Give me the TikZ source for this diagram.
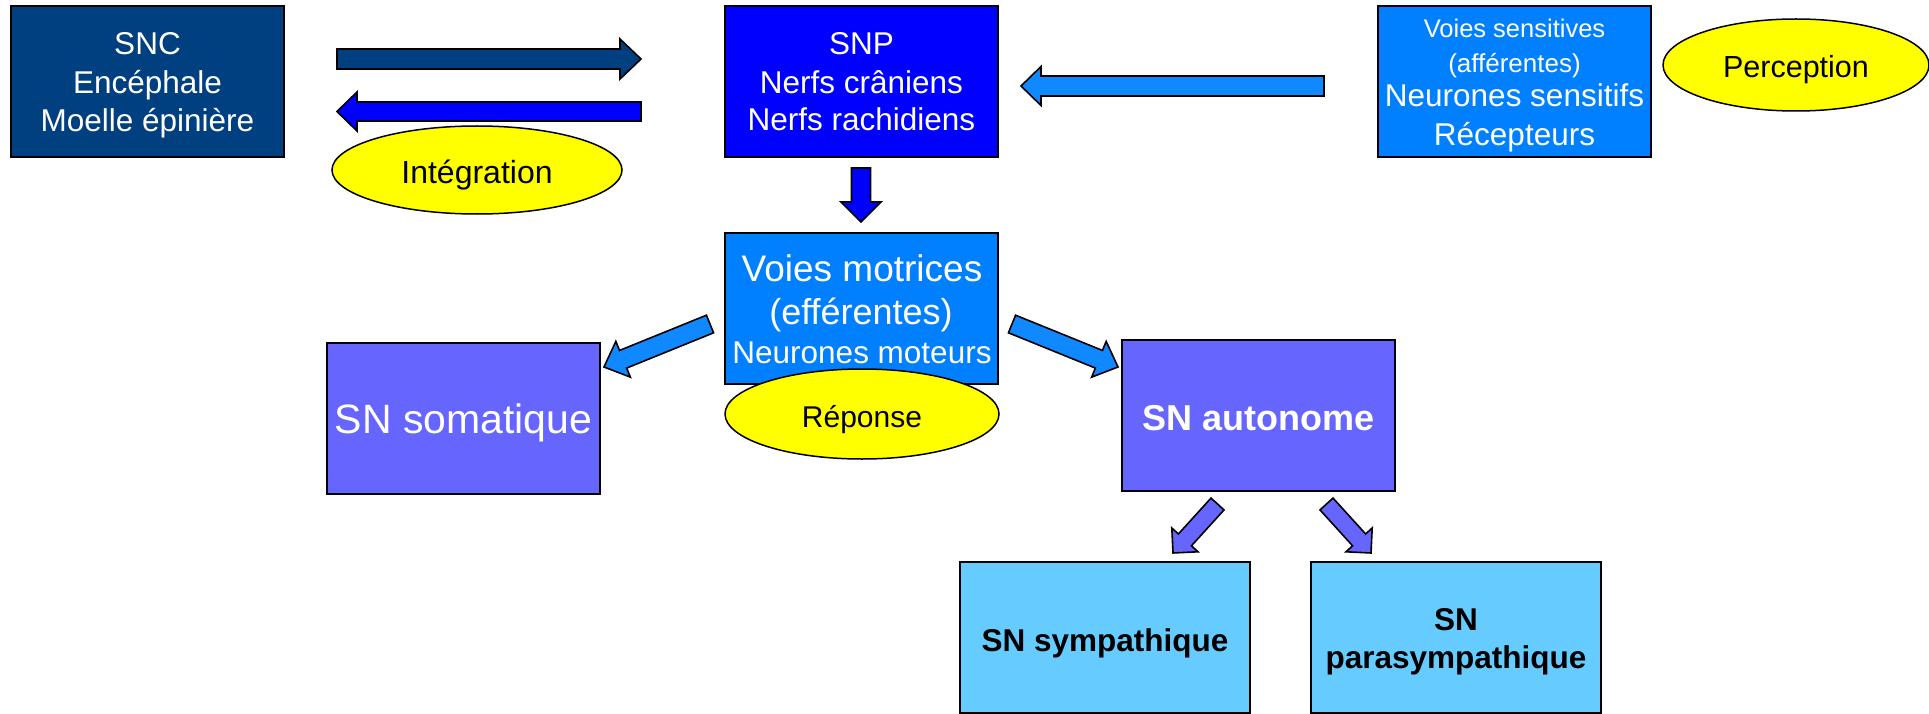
\documentclass[tikz,border=0pt]{standalone}
\usepackage{fontspec}
\setmainfont{Liberation Sans}
\usetikzlibrary{shapes.geometric}
\definecolor{sncblue}{HTML}{004080}
\definecolor{snpblue}{HTML}{0000FF}
\definecolor{voieblue}{HTML}{0080FF}
\definecolor{arrblue}{HTML}{1088FF}
\definecolor{snviolet}{HTML}{6666FF}
\definecolor{snlight}{HTML}{66CCFF}
\definecolor{ellyellow}{HTML}{FFFF00}
\tikzset{
  box/.style={draw=black, line width=2pt, minimum width=273pt, minimum height=151pt, inner sep=0pt},
  ellip/.style={ellipse, draw=black, line width=1.5pt, fill=ellyellow, inner sep=0pt},
  barr/.style={draw=black, line width=1.6pt, line join=miter},
  wline/.style={anchor=base, inner sep=0pt, text=white},
  kline/.style={anchor=base, inner sep=0pt, text=black},
}
\newcommand\fsz[1]{\fontsize{#1}{#1}\selectfont}
\newcommand\blockarrow[6]{%
  \path (#2); \pgfgetlastxy{\bax}{\bay}%
  \path (#3); \pgfgetlastxy{\bbx}{\bby}%
  \pgfmathsetmacro\bang{atan2((\bby)-(\bay),(\bbx)-(\bax))}%
  \pgfmathsetmacro\blen{veclen((\bbx)-(\bax),(\bby)-(\bay))}%
  \pgfmathsetmacro\bneck{\blen-#6}%
  \draw[barr,#1,shift={(\bax,\bay)},rotate=\bang]
    (0pt,-#4pt) -- (\bneck pt,-#4pt) -- (\bneck pt,-#5pt) -- (\blen pt,0pt)
    -- (\bneck pt,#5pt) -- (\bneck pt,#4pt) -- (0pt,#4pt) -- cycle;}
\begin{document}
\begin{tikzpicture}[x=1pt,y=-1pt]
\useasboundingbox (0,0) rectangle (1929,714);

% boxes
\node[box, fill=sncblue] (snc) at (147.5,81.5) {};
\node[box, fill=snpblue] (snp) at (861.5,81.5) {};
\node[box, fill=voieblue] (sens) at (1514.5,81.5) {};
\node[box, fill=voieblue] (motr) at (861,308.5) {};
\node[box, fill=snviolet] (soma) at (463.5,418.5) {};
\node[box, fill=snviolet] (auto) at (1258.5,415.5) {};
\node[box, fill=snlight, minimum width=290pt] (symp) at (1105,637.5) {};
\node[box, fill=snlight, minimum width=290pt] (para) at (1456,637.5) {};

% ellipses
\node[ellip, minimum width=290pt, minimum height=88pt] (integ) at (477,170) {};
\node[ellip, minimum width=266pt, minimum height=92pt] (perc) at (1796,65) {};
\node[ellip, minimum width=274pt, minimum height=90pt] (repo) at (862,414) {};

% texts
\node[wline, font=\fsz{31.5}] (snc1) at (147.5,55) {SNC};
\node[wline, font=\fsz{31.5}] (snc2) at (147.5,94) {Encéphale};
\node[wline, font=\fsz{31.5}] (snc3) at (147.5,132) {Moelle épinière};

\node[wline, font=\fsz{31.5}] (snp1) at (861.5,55) {SNP};
\node[wline, font=\fsz{31.5}] (snp2) at (861.5,93.5) {Nerfs crâniens};
\node[wline, font=\fsz{31.5}] (snp3) at (861.5,131) {Nerfs rachidiens};

\node[wline, font=\fsz{25.5}] (sens1) at (1514.5,38) {Voies sensitives};
\node[wline, font=\fsz{26}] (sens2) at (1514.5,73) {(afférentes)};
\node[wline, font=\fsz{31.5}] (sens3) at (1514.5,107) {Neurones sensitifs};
\node[wline, font=\fsz{31.5}] (sens4) at (1514.5,146) {Récepteurs};

\node[wline, font=\fsz{37}] (motr1) at (862,281) {Voies motrices};
\node[wline, font=\fsz{36}] (motr2) at (861,324) {(efférentes)};
\node[wline, font=\fsz{31.5}] (motr3) at (862,363) {Neurones moteurs};

\node[wline, font=\fsz{41}] (soma1) at (463.5,433) {SN somatique};
\node[wline, font=\fsz{36}\bfseries] (auto1) at (1258.5,430) {SN autonome};
\node[kline, font=\fsz{31.5}\bfseries] (symp1) at (1105,651) {SN sympathique};
\node[kline, font=\fsz{31.5}\bfseries] (para1) at (1456,630) {SN};
\node[kline, font=\fsz{31.5}\bfseries] (para2) at (1456,668) {parasympathique};

\node[kline, font=\fsz{32}] (integ1) at (477,184) {Intégration};
\node[kline, font=\fsz{30.5}] (perc1) at (1796,78) {Perception};
\node[kline, font=\fsz{30}] (repo1) at (862,427) {Réponse};

% arrow end points
\coordinate (a1s) at (337,59);     \coordinate (a1e) at (641,59);
\coordinate (a2s) at (641,111.5);  \coordinate (a2e) at (337,111.5);
\coordinate (a3s) at (1324,86);    \coordinate (a3e) at (1021,86);
\coordinate (a4s) at (861,168);    \coordinate (a4e) at (861,222);
\coordinate (a5s) at (710,324);    \coordinate (a5e) at (604,367);
\coordinate (a6s) at (1012,324);   \coordinate (a6e) at (1118,367);
\coordinate (a7s) at (1217.5,504); \coordinate (a7e) at (1173,553);
\coordinate (a8s) at (1326.5,504); \coordinate (a8e) at (1371,553);

\blockarrow{fill=sncblue}{a1s}{a1e}{10}{20}{21}
\blockarrow{fill=snpblue}{a2s}{a2e}{9.5}{19.5}{20}
\blockarrow{fill=arrblue}{a3s}{a3e}{10}{19.5}{20}
\blockarrow{fill=snpblue}{a4s}{a4e}{9.5}{20}{20}
\blockarrow{fill=arrblue}{a5s}{a5e}{9.5}{19.3}{20.6}
\blockarrow{fill=arrblue}{a6s}{a6e}{9.5}{19.3}{20.6}
\blockarrow{fill=snviolet}{a7s}{a7e}{8.8}{17.7}{17.7}
\blockarrow{fill=snviolet}{a8s}{a8e}{8.8}{17.7}{17.7}
\end{tikzpicture}
\end{document}
